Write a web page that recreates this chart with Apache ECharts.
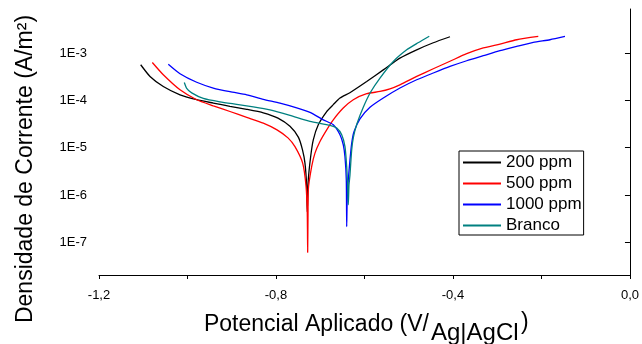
<!DOCTYPE html>
<html>
<head>
<meta charset="utf-8">
<script src="https://cdn.jsdelivr.net/npm/echarts@6/dist/echarts.min.js"></script>
<style>
html,body{margin:0;padding:0;background:#fff;}
#chart{width:642px;height:344px;}
</style>
</head>
<body>
<div id="chart"></div>
<script>
// ---- data (potential in V, current density in A/m²) ----
const seriesNames = ['200 ppm', '500 ppm', '1000 ppm', 'Branco'];

const e200 = [-1.1058,-1.0847,-1.0547,-1.0169,-0.9792,-0.9417,-0.904,-0.8662,-0.8287,-0.7955,-0.7684,-0.7492,-0.7401,-0.7345,-0.7306,-0.7293,
  -0.727,-0.7216,-0.7157,-0.7044,-0.6854,-0.6705,-0.6554,-0.633,-0.595,-0.5575,-0.520,-0.482,-0.4445,-0.4068];
const i200 = [5.65e-4,3.2e-4,1.96e-4,1.31e-4,1.03e-4,8.75e-5,7.48e-5,6.47e-5,5.46e-5,4.21e-5,2.82e-5,1.65e-5,8.97e-6,4.7e-6,1.5e-6,4.4e-7,
  2.08e-6,6.5e-6,1.46e-5,3.04e-5,5.8e-5,8.1e-5,1.12e-4,1.45e-4,2.5e-4,4.4e-4,7.8e-4,1.17e-3,1.65e-3,2.21e-3];

const e500 = [-1.0795,-1.0547,-1.0169,-0.9792,-0.9417,-0.904,-0.8662,-0.8287,-0.7977,-0.7729,-0.7571,-0.7397,-0.732,-0.7293,-0.7284,
  -0.7276,-0.727,-0.7193,-0.7119,-0.7006,-0.6854,-0.6705,-0.648,-0.6253,-0.595,-0.565,-0.5425,-0.520,-0.482,-0.4445,-0.4068,-0.369,-0.3315,-0.2938,-0.256,-0.2072];
const i500 = [6.3e-4,3.47e-4,1.67e-4,1.03e-4,7.67e-5,5.81e-5,4.37e-5,3.3e-5,2.38e-5,1.61e-5,1.05e-5,4.7e-6,1.5e-6,4.1e-7,6.1e-8,
  4.0e-7,1.28e-6,4.0e-6,7.66e-6,1.35e-5,2.38e-5,3.87e-5,6.86e-5,1.03e-4,1.38e-4,1.54e-4,1.75e-4,2.13e-4,3.2e-4,4.66e-4,6.7e-4,9.67e-4,1.28e-3,1.55e-3,1.91e-3,2.24e-3];

const e1000 = [-1.0434,-1.0169,-0.9792,-0.9417,-0.904,-0.8662,-0.8287,-0.791,-0.7532,-0.7232,-0.6931,-0.6705,-0.6554,-0.6479,-0.6441,-0.6411,-0.6402,
  -0.6391,-0.6366,-0.6328,-0.6289,-0.6237,-0.6102,-0.5876,-0.5575,-0.5198,-0.482,-0.4445,-0.4068,-0.369,-0.3315,-0.2938,-0.256,-0.2185,-0.1808,-0.1469];
const i1000 = [5.8e-4,3.65e-4,2.41e-4,1.82e-4,1.52e-4,1.31e-4,1.05e-4,8.75e-5,6.95e-5,5.58e-5,3.87e-5,3.04e-5,1.87e-5,1.15e-5,6.4e-6,2.08e-6,2.14e-7,
  7.85e-7,2.08e-6,5.52e-6,1.24e-5,2.16e-5,4.07e-5,7.13e-5,1.12e-4,1.82e-4,2.72e-4,3.78e-4,5.2e-4,6.87e-4,8.77e-4,1.12e-3,1.38e-3,1.68e-3,1.91e-3,2.24e-3];

const eBranco = [-1.0072,-1.0018,-0.9905,-0.9643,-0.9266,-0.8888,-0.8513,-0.8136,-0.7684,-0.7232,-0.678,-0.6628,-0.6515,-0.6441,-0.6402,-0.638,-0.6366,
  -0.635,-0.6328,-0.6289,-0.6249,-0.617,-0.6027,-0.5864,-0.565,-0.5349,-0.5046,-0.479,-0.4536];
const iBranco = [2.39e-4,1.8e-4,1.44e-4,1.1e-4,9.3e-5,8.24e-5,7.3e-5,6.3e-5,4.83e-5,3.6e-5,2.96e-5,2.59e-5,1.87e-5,1.05e-5,3.98e-6,1.5e-6,6.2e-7,
  1.63e-6,2.65e-6,8.97e-6,1.69e-5,3.19e-5,7.13e-5,1.48e-4,2.96e-4,6.64e-4,1.17e-3,1.65e-3,2.27e-3];

const xTickLabels = [-1.2, -0.8, -0.4, 0.0];
const yTickValues = [1e-7, 1e-6, 1e-5, 1e-4, 1e-3];
const colors = ['#000000', '#ff0000', '#0000ff', '#008080'];

// ---- build chart ----
const zip = (xs, ys) => xs.map((x, k) => [x, ys[k]]);
const allData = [zip(e200, i200), zip(e500, i500), zip(e1000, i1000), zip(eBranco, iBranco)];
const FONT = '"Liberation Sans", Arial, sans-serif';

const chart = echarts.init(document.getElementById('chart'), null, {renderer: 'canvas'});
chart.setOption({
  animation: false,
  backgroundColor: '#ffffff',
  grid: {left: 99, right: 12, top: 9, bottom: 69},
  legend: {
    orient: 'vertical',
    left: 459, top: 151,
    data: seriesNames,
    itemWidth: 38, itemHeight: 14, itemGap: 4,
    padding: [3, 2, 1, 3],
    borderColor: '#000', borderWidth: 1, borderRadius: 0,
    backgroundColor: '#fff',
    itemStyle: {opacity: 0},
    textStyle: {fontFamily: FONT, fontSize: 17, color: '#000'}
  },
  xAxis: {
    type: 'value', min: -1.2, max: 0, interval: 0.2,
    splitLine: {show: false},
    axisLine: {onZero: false, lineStyle: {color: '#000', width: 1}},
    axisTick: {show: true, length: 4, inside: false, lineStyle: {color: '#000'}},
    axisLabel: {
      margin: 14, fontFamily: FONT, fontSize: 13, color: '#000',
      formatter: v => xTickLabels.some(t => Math.abs(t - v) < 1e-6) ? v.toFixed(1).replace('.', ',').replace('-0,0', '0,0') : ''
    }
  },
  yAxis: {
    type: 'log', logBase: 10, min: 2.03e-8, max: 8.53e-3,
    splitLine: {show: false},
    axisLine: {show: true, lineStyle: {color: '#000', width: 1}},
    axisTick: {show: true, length: 5, customValues: yTickValues, lineStyle: {color: '#000'}},
    axisLabel: {
      margin: 12, fontFamily: FONT, fontSize: 13, color: '#000',
      customValues: yTickValues,
      formatter: v => {
        const p = Math.log10(v);
        return Math.abs(p - Math.round(p)) < 1e-6 ? '1E' + Math.round(p) : '';
      }
    }
  },
  series: allData.map((d, k) => ({
    name: seriesNames[k],
    type: 'line',
    data: d,
    symbol: 'none',
    smooth: 0.2,
    color: colors[k],
    lineStyle: {color: colors[k], width: 1.3},
    z: 2 + k
  })),
  graphic: [
    {type: 'text', x: 26, y: 169, rotation: Math.PI / 2,
     style: {text: 'Densidade de Corrente (A/m²)', font: '23px ' + FONT, fill: '#000', align: 'center', verticalAlign: 'middle'}},
    {type: 'text', x: 429, y: 324.5,
     style: {text: 'Potencial Aplicado (V/', font: '23px ' + FONT, fill: '#000', align: 'right', verticalAlign: 'middle'}},
    {type: 'text', x: 431, y: 333,
     style: {text: 'Ag|AgCl', font: '24px ' + FONT, fill: '#000', align: 'left', verticalAlign: 'middle'}},
    {type: 'text', x: 521, y: 322.5,
     style: {text: ')', font: '23px ' + FONT, fill: '#000', align: 'left', verticalAlign: 'middle'}}
  ]
});
</script>
</body>
</html>
